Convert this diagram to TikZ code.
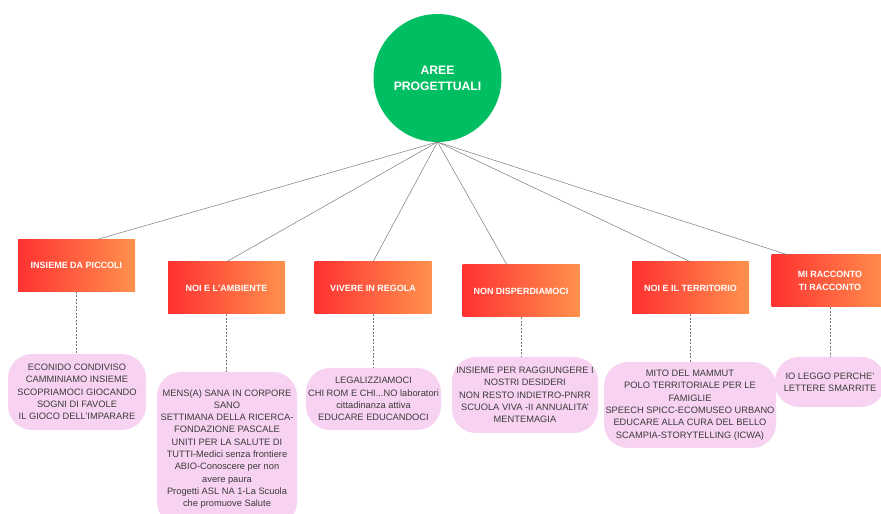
\documentclass[tikz,border=0pt]{standalone}
\usepackage{fontspec}
\setmainfont{Liberation Sans}
\usepackage{xcolor}
\usetikzlibrary{positioning, calc}
\definecolor{hubgreen}{HTML}{00BF63}
\definecolor{arealeft}{HTML}{FF3131}
\definecolor{arearight}{HTML}{FF914D}
\definecolor{bubblebg}{HTML}{F8D3F1}
\definecolor{bubbletext}{HTML}{3A3A3A}
\definecolor{linkcolor}{HTML}{7A7A7A}

\begin{document}
\begin{tikzpicture}[
    x=1pt, y=1pt,
    hub/.style={
        circle, fill=hubgreen, text=white, minimum size=128pt,
        font=\fontsize{12.2}{16}\selectfont\bfseries, align=center,
    },
    area/.style={
        rectangle, left color=arealeft, right color=arearight,
        text=white,
        font=\fontsize{9}{12.5}\selectfont\bfseries, align=center,
        minimum width=117pt, minimum height=52pt,
    },
    bubble/.style={
        rectangle, rounded corners=24pt, fill=bubblebg, text=bubbletext,
        font=\fontsize{9.3}{12.3}\selectfont, align=center, inner sep=1pt,
    },
    link/.style={draw=linkcolor, line width=0.5pt},
    drop/.style={draw=linkcolor, line width=0.5pt, dash pattern=on 2pt off 1.5pt},
]
\useasboundingbox (0,0) rectangle (881,514);

% Hub
\node[hub] (root) at (437.5, 436) {AREE\\PROGETTUALI};
\coordinate (fork) at (437.5, 372);

% Project areas
\node[area] (a1) at (76.5, 248.5) {INSIEME DA PICCOLI};
\node[area] (a2) at (226.5, 226)  {NOI E L'AMBIENTE};
\node[area] (a3) at (373, 226)    {VIVERE IN REGOLA};
\node[area] (a4) at (521, 223)    {NON DISPERDIAMOCI};
\node[area] (a5) at (690.5, 226)  {NOI E IL TERRITORIO};
\node[area] (a6) at (830, 233)    {MI RACCONTO\\ TI RACCONTO};

% Project lists
\node[bubble, minimum width=138pt, minimum height=76pt] (b1) at (77, 122) {
    ECONIDO CONDIVISO\\
    CAMMINIAMO INSIEME\\
    SCOPRIAMOCI GIOCANDO\\
    SOGNI DI FAVOLE\\
    IL GIOCO DELL'IMPARARE
};
\node[bubble, minimum width=140pt, minimum height=154pt] (b2) at (227, 65) {
    MENS(A) SANA IN CORPORE\\
    SANO\\
    SETTIMANA DELLA RICERCA-\\
    FONDAZIONE PASCALE\\
    UNITI PER LA SALUTE DI\\
    TUTTI-Medici senza frontiere\\
    ABIO-Conoscere per non\\
    avere paura\\
    Progetti ASL NA 1-La Scuola\\
    che promuove Salute
};
\node[bubble, minimum width=135pt, minimum height=62pt] (b3) at (373.5, 115) {
    LEGALIZZIAMOCI\\
    CHI ROM E CHI...NO laboratori\\
    cittadinanza attiva\\
    EDUCARE EDUCANDOCI
};
\node[bubble, minimum width=146pt, minimum height=76pt] (b4) at (525, 119) {
    INSIEME PER RAGGIUNGERE I\\
    NOSTRI DESIDERI\\
    NON RESTO INDIETRO-PNRR\\
    SCUOLA VIVA -II ANNUALITA'\\
    MENTEMAGIA
};
\node[bubble, minimum width=172pt, minimum height=86pt] (b5) at (690, 109) {
    MITO DEL MAMMUT\\
    POLO TERRITORIALE PER LE\\
    FAMIGLIE\\
    SPEECH SPICC-ECOMUSEO URBANO\\
    EDUCARE ALLA CURA DEL BELLO\\
    SCAMPIA-STORYTELLING (ICWA)
};
\node[bubble, minimum width=110pt, minimum height=50pt] (b6) at (830, 132) {
    IO LEGGO PERCHE'\\
    LETTERE SMARRITE
};

% Links from the hub
\draw[link] (fork) -- ($(a1.north west)!0.68!(a1.north east)$);
\draw[link] (fork) -- (a2.north);
\draw[link] (fork) -- (a3.north);
\draw[link] (fork) -- ($(a4.north west)!0.38!(a4.north east)$);
\draw[link] (fork) -- (a5.north);
\draw[link] (fork) -- ($(a6.north west)!0.14!(a6.north east)$);

% Dashed drops to the lists
\foreach \i in {1,...,6}
    \draw[drop] (a\i.south) -- (a\i.south |- b\i.north);

\end{tikzpicture}
\end{document}
